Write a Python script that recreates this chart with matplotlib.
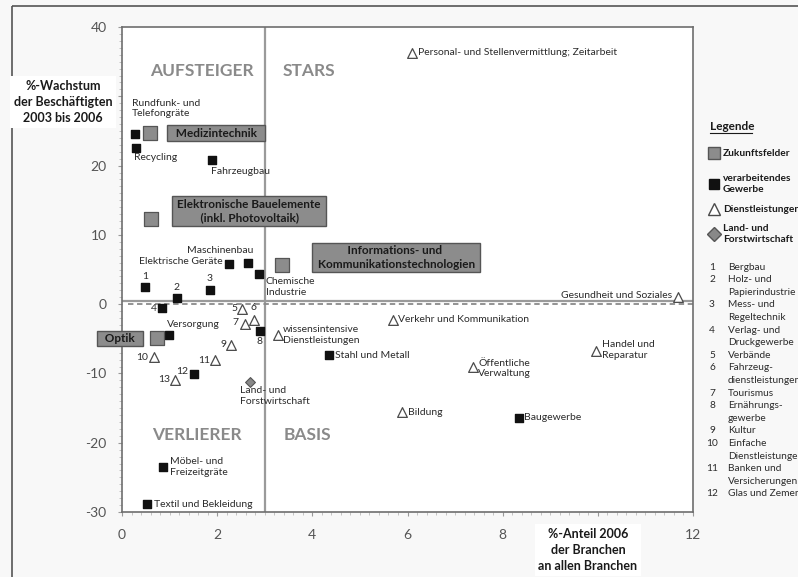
# coding: utf-8
import numpy as np
import matplotlib
matplotlib.use("Agg")
import matplotlib.pyplot as plt
from matplotlib.lines import Line2D
from matplotlib.patches import Rectangle
from matplotlib.ticker import MultipleLocator

plt.rcParams["font.family"] = ["Lato", "DejaVu Sans"]

#====== DATA ======
fields_names = ["Medizintechnik", "Elektronische Bauelemente\n(inkl. Photovoltaik)",
                "Informations- und\nKommunikationstechnologien", "Optik"]
fields_x = [0.59, 0.60, 3.37, 0.74]
fields_y = [24.7, 12.3, 5.6, -4.95]

manuf_names = ["Rundfunk- und\nTelefongräte", "Recycling", "Fahrzeugbau", "Elektrische Geräte",
               "Maschinenbau", "Chemische\nIndustrie", "1", "2", "3", "4", "Versorgung", "8", "12",
               "Stahl und Metall", "Baugewerbe", "Möbel- und\nFreizeitgräte", "Textil und Bekleidung"]
manuf_x = [0.27, 0.29, 1.90, 2.24, 2.65, 2.87, 0.48, 1.15, 1.85, 0.85, 0.99, 2.89, 1.51, 4.34, 8.35, 0.86, 0.53]
manuf_y = [24.5, 22.5, 20.8, 5.8, 5.9, 4.4, 2.45, 0.87, 2.1, -0.6, -4.5, -3.85, -10.1, -7.4, -16.4, -23.5, -28.9]

serv_names = ["Personal- und Stellenvermittlung; Zeitarbeit", "Gesundheit und Soziales", "5", "6", "7",
              "wissensintensive\nDienstleistungen", "9", "10", "11", "13", "Verkehr und Kommunikation",
              "Handel und\nReparatur", "Öffentliche\nVerwaltung", "Bildung"]
serv_x = [6.10, 11.69, 2.53, 2.77, 2.58, 3.27, 2.30, 0.67, 1.95, 1.12, 5.70, 9.96, 7.38, 5.89]
serv_y = [36.3, 1.05, -0.72, -2.3, -2.8, -4.4, -5.87, -7.7, -8.1, -10.9, -2.26, -6.8, -9.0, -15.6]

agri_names = ["Land- und\nForstwirtschaft"]
agri_x = [2.70]
agri_y = [-11.2]

x_ticks = [0, 2, 4, 6, 8, 10, 12]
x_ticklabels = ["0", "2", "4", "6", "8", "", "12"]
y_ticks = [-30, -20, -10, 0, 10, 20, 30, 40]
y_ticklabels = ["-30", "-20", "-10", "0", "10", "20", "", "40"]

legend_numbers = ["1", "2", "3", "4", "5", "6", "7", "8", "9", "10", "11", "12"]
legend_branches = ["Bergbau", "Holz- und\nPapierindustrie", "Mess- und\nRegeltechnik", "Verlag- und\nDruckgewerbe",
                   "Verbände", "Fahrzeug-\ndienstleistungen", "Tourismus", "Ernährungs-\ngewerbe", "Kultur",
                   "Einfache\nDienstleistungen", "Banken und\nVersicherungen", "Glas und Zement"]

avg_growth = 0.4
avg_share = 3.0
#==============================

# label placement: offset in pixels from the marker, horizontal alignment
label_pos = {
    "Rundfunk- und\nTelefongräte": (-3, 26, "left"),
    "Recycling": (-2, -9, "left"),
    "Fahrzeugbau": (-1, -11, "left"),
    "Elektrische Geräte": (-6, 2, "right"),
    "Maschinenbau": (-28, 13, "center"),
    "Chemische\nIndustrie": (7, -13, "left"),
    "1": (0, 11, "center"), "2": (0, 11, "center"), "3": (0, 11, "center"),
    "4": (-6, 0, "right"),
    "Versorgung": (-2, 11, "left"),
    "8": (0, -11, "center"),
    "12": (-6, 3, "right"),
    "Stahl und Metall": (6, 0, "left"),
    "Baugewerbe": (5, 0, "left"),
    "Möbel- und\nFreizeitgräte": (7, 0, "left"),
    "Textil und Bekleidung": (7, 0, "left"),
    "Personal- und Stellenvermittlung; Zeitarbeit": (6, 0, "left"),
    "Gesundheit und Soziales": (-6, 1, "right"),
    "5": (-5, 1, "right"), "6": (0, 13, "center"), "7": (-6, 1, "right"),
    "wissensintensive\nDienstleistungen": (5, 0, "left"),
    "9": (-5, 0, "right"), "10": (-6, 0, "right"), "11": (-5, 0, "right"), "13": (-5, 0, "right"),
    "Verkehr und Kommunikation": (5, 0, "left"),
    "Handel und\nReparatur": (6, 1, "left"),
    "Öffentliche\nVerwaltung": (5, -2, "left"),
    "Bildung": (6, 0, "left"),
    "Land- und\nForstwirtschaft": (-10, -14, "left"),
}
box_pos = {
    "Medizintechnik": (66, 0),
    "Elektronische Bauelemente\n(inkl. Photovoltaik)": (98, 8),
    "Informations- und\nKommunikationstechnologien": (114, 8),
    "Optik": (-37, 0),
}

TXT = "#2b2b2b"
GRAY = "#8c8c8c"
EDGE = "#555555"

fig = plt.figure(figsize=(7.98, 5.77), dpi=100, facecolor="#f8f8f8")
ax = fig.add_axes([122/798, 65/577, 571/798, 485/577], zorder=1)
ax.set_facecolor("white")
ax.set_xlim(0, 12)
ax.set_ylim(-30, 40)

for s in ax.spines.values():
    s.set_color("#6e6e6e")
    s.set_linewidth(1.2)
ax.set_xticks(x_ticks, x_ticklabels)
ax.set_yticks(y_ticks, y_ticklabels)
ax.xaxis.set_minor_locator(MultipleLocator(0.2))
ax.yaxis.set_minor_locator(MultipleLocator(1))
ax.tick_params(which="major", length=3, color="#999999", labelsize=10, labelcolor="#555555", pad=8)
ax.tick_params(which="minor", length=2, color="#bbbbbb")
ax.tick_params(axis="x", pad=9)

# quadrant dividers
ax.axvline(avg_share, color="#9a9a9a", lw=1.6, zorder=1)
ax.axhline(avg_growth, color="#9a9a9a", lw=1.6, zorder=1)
ax.axhline(0, xmin=0.01, color="#8a8a8a", lw=1.3, ls=(0, (3, 2)), zorder=1)

quad = dict(color="#8a8a8a", fontsize=12.5, fontweight="bold", ha="center", va="center")
ax.text(1.68, 33.6, "AUFSTEIGER", **quad)
ax.text(3.93, 33.6, "STARS", **quad)
ax.text(1.57, -18.9, "VERLIERER", **quad)
ax.text(3.9, -18.9, "BASIS", **quad)

# markers
ax.scatter(manuf_x, manuf_y, marker="s", s=6.3**2, color="#111111", zorder=4)
ax.scatter(serv_x, serv_y, marker="^", s=7**2, facecolor="white", edgecolor="#4a4a4a", lw=0.9, zorder=4)
ax.scatter(agri_x, agri_y, marker="D", s=5**2, facecolor="#888888", edgecolor=EDGE, lw=0.8, zorder=4)
ax.scatter(fields_x, fields_y, marker="s", s=10**2, facecolor=GRAY, edgecolor=EDGE, lw=0.9, zorder=4)

for names, xs, ys in [(manuf_names, manuf_x, manuf_y), (serv_names, serv_x, serv_y), (agri_names, agri_x, agri_y)]:
    for name, x, y in zip(names, xs, ys):
        dx, dy, ha = label_pos[name]
        ax.annotate(name, (x, y), xytext=(dx, dy), textcoords="offset pixels", ha=ha, va="center",
                    fontsize=7.5, color=TXT, linespacing=1.25, zorder=5)

for name, x, y in zip(fields_names, fields_x, fields_y):
    dx, dy = box_pos[name]
    lines = name.split("\n")
    w = max(len(l) for l in lines)
    padded = "\n".join(" " + l.center(w) + " " for l in lines) if len(lines) > 1 else "  " + name + "  "
    ax.annotate(padded, (x, y), xytext=(dx, dy), textcoords="offset pixels", ha="center", va="center",
                fontsize=8.5, fontweight="bold", color="#1a1a1a", linespacing=1.3, zorder=5,
                bbox=dict(boxstyle="square,pad=0.2", facecolor=GRAY, edgecolor=EDGE, lw=1))

# overlay in pixel coordinates for axis titles, legend, frame
ov = fig.add_axes([0, 0, 1, 1], zorder=2)
ov.set_xlim(0, 798)
ov.set_ylim(577, 0)
ov.axis("off")
ov.add_patch(Rectangle((12, 6), 830, 640, fill=False, edgecolor="#555555", lw=1.2, clip_on=False))

ov.text(63, 102, "%-Wachstum\nder Beschäftigten\n2003 bis 2006", ha="center", va="center", fontsize=9,
        fontweight="bold", color="#1a1a1a", linespacing=1.45,
        bbox=dict(boxstyle="square,pad=0.3", facecolor="white", edgecolor="none"))
ov.text(588, 550, "%-Anteil 2006\nder Branchen\nan allen Branchen", ha="center", va="center", fontsize=9,
        fontweight="bold", color="#1a1a1a", linespacing=1.45,
        bbox=dict(boxstyle="square,pad=0.3", facecolor="white", edgecolor="none"))

# legend
ov.text(710, 126, "Legende", fontsize=8.5, fontweight="bold", color="#1a1a1a", va="center")
ov.add_line(Line2D([710, 752], [133, 133], color="#1a1a1a", lw=0.8))
lx = 714
leg_items = [
    ("Zukunftsfelder", 153, dict(marker="s", ms=9, mfc=GRAY, mec=EDGE)),
    ("verarbeitendes\nGewerbe", 184, dict(marker="s", ms=7.5, mfc="#111111", mec="#111111")),
    ("Dienstleistungen", 209, dict(marker="^", ms=9, mfc="white", mec="#4a4a4a")),
    ("Land- und\nForstwirtschaft", 234, dict(marker="D", ms=7, mfc="#888888", mec=EDGE)),
]
for text, y, style in leg_items:
    ov.add_line(Line2D([lx], [y], lw=0, **style))
    ov.text(723, y, text, fontsize=7.3, fontweight="bold", color="#1a1a1a", va="center", linespacing=1.3)

y = 267
step = 12.6
for num, branch in zip(legend_numbers, legend_branches):
    ov.text(712, y, num, fontsize=7.3, color=TXT, va="center", ha="center")
    for line in branch.split("\n"):
        ov.text(728, y, line, fontsize=7.3, color=TXT, va="center")
        y += step

fig.savefig("out.png", dpi=100, facecolor=fig.get_facecolor())
